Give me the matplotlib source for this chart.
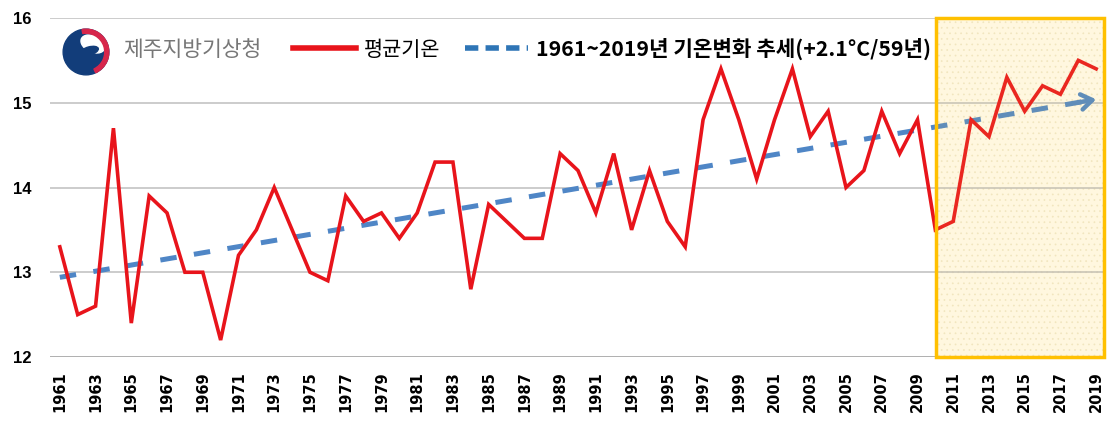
import matplotlib
matplotlib.use('Agg')
import matplotlib.pyplot as plt
from matplotlib.lines import Line2D
from matplotlib.patches import Rectangle, Wedge, Ellipse

# ---------------- data ----------------
years = list(range(1961, 2020))
mean_temp = [13.3, 12.5, 12.6, 14.7, 12.4, 13.9, 13.7, 13.0, 13.0, 12.2,
             13.2, 13.5, 14.0, 13.5, 13.0, 12.9, 13.9, 13.6, 13.7, 13.4,
             13.7, 14.3, 14.3, 12.8, 13.8, 13.6, 13.4, 13.4, 14.4, 14.2,
             13.7, 14.4, 13.5, 14.2, 13.6, 13.3, 14.8, 15.4, 14.8, 14.1,
             14.8, 15.4, 14.6, 14.9, 14.0, 14.2, 14.9, 14.4, 14.8, 13.5,
             13.6, 14.8, 14.6, 15.3, 14.9, 15.2, 15.1, 15.5, 15.4]
trend_years = [1961, 2019]
trend_values = [12.94, 15.04]
highlight_years = [2010.05, 2019.42]
y_ticks = [12, 13, 14, 15, 16]
x_tick_years = years[::2]
series_labels = ['평균기온', '1961~2019년 기온변화 추세(+2.1°C/59년)']
org_name = '제주지방기상청'

KR = ['Noto Sans CJK KR', 'DejaVu Sans']
RED = '#E8141B'
BLUE = '#4F86C6'

W, H = 1108, 421
fig = plt.figure(figsize=(W / 100, H / 100), dpi=100)
ax = fig.add_axes([50 / W, 1 - 357 / H, 1056 / W, (357 - 18) / H])

ax.set_xlim(1960.45, 2019.55)
ax.set_ylim(12, 16)

# grid
for v in y_ticks:
    ax.axhline(v, color='#BFBFBF' if v != 12 else '#9A9A9A', lw=1.1, zorder=1)
for s in ax.spines.values():
    s.set_visible(False)

# mean temperature line
ax.plot(years, mean_temp, color=RED, lw=2.6, zorder=3, solid_joinstyle='miter')

# trend line
tl, = ax.plot(trend_years, trend_values, color=BLUE, lw=3.6, zorder=2,
              solid_capstyle='butt', dash_capstyle='butt')
tl.set_dashes([3.3, 3.5])
slope = (trend_values[1] - trend_values[0]) / (trend_years[1] - trend_years[0])
ax.annotate('', xy=(trend_years[1], trend_values[1]),
            xytext=(trend_years[1] - 1.0, trend_values[1] - slope * 1.0),
            arrowprops=dict(arrowstyle='->,head_length=0.8,head_width=0.55',
                            color=BLUE, lw=3.2, shrinkA=0, shrinkB=0),
            zorder=2)

# highlight box
x0, x1 = highlight_years
plt.rcParams['hatch.linewidth'] = 0.5
ax.add_patch(Rectangle((x0, 12), x1 - x0, 4, facecolor='#FFFCF0',
                       edgecolor='none', zorder=0.5, clip_on=False))
ax.add_patch(Rectangle((x0, 12), x1 - x0, 4, facecolor='none', hatch='...',
                       edgecolor='#F0E8CC', lw=0, zorder=0.6, clip_on=False))
ax.add_patch(Rectangle((x0, 12), x1 - x0, 4, facecolor='#FFD24D', alpha=0.1,
                       edgecolor='none', zorder=5, clip_on=False))
ax.add_patch(Rectangle((x0, 12), x1 - x0, 4, facecolor='none',
                       edgecolor='#FFC000', lw=2.5, zorder=6, clip_on=False))

# ticks
ax.set_yticks(y_ticks)
ax.set_yticklabels([str(v) for v in y_ticks], fontfamily='Liberation Sans',
                   fontweight='bold', fontsize=12)
ax.set_xticks(x_tick_years)
ax.set_xticklabels([str(y) for y in x_tick_years], rotation=90,
                   fontfamily='DejaVu Sans', fontweight='bold', fontsize=10.5)
ax.tick_params(axis='y', length=0, pad=13)
ax.tick_params(axis='x', length=0, pad=10)

# legend
h1 = Line2D([], [], color=RED, lw=4)
h2 = Line2D([], [], color='#2E75B6', lw=4)
h2.set_dashes([2.4, 1.3])
leg = fig.legend([h1, h2], series_labels, loc='center left',
                 bbox_to_anchor=(293 / W, 1 - 49 / H), ncol=2, frameon=False,
                 prop={'family': KR, 'size': 15}, handlelength=3.0,
                 handletextpad=0.4, columnspacing=1.2, borderpad=0,
                 borderaxespad=0)
leg.get_texts()[1].set_fontweight('bold')
leg.get_texts()[1].set_fontsize(15.3)

# logo
lax = fig.add_axes([62 / W, 1 - 76 / H, 48 / W, 48 / H])
lax.set_xlim(-1.05, 1.05)
lax.set_ylim(-1.05, 1.05)
lax.set_aspect('equal')
lax.axis('off')
lax.add_patch(Wedge((0, 0), 1, 0, 360, color='#123D7A'))
lax.add_patch(Ellipse((0.3, 0.35), 1.1, 0.7, angle=-25, color='white'))
lax.add_patch(Ellipse((0.15, 0.05), 0.8, 0.35, angle=15, color='#123D7A'))
lax.add_patch(Wedge((0, 0), 1, -65, 100, width=0.18, color='#D7264B'))
fig.text(123 / W, 1 - 50 / H, org_name, fontfamily=KR, fontsize=15.5,
         color='#777777', va='center', ha='left', fontweight='light')

fig.savefig('out.png', dpi=100)
